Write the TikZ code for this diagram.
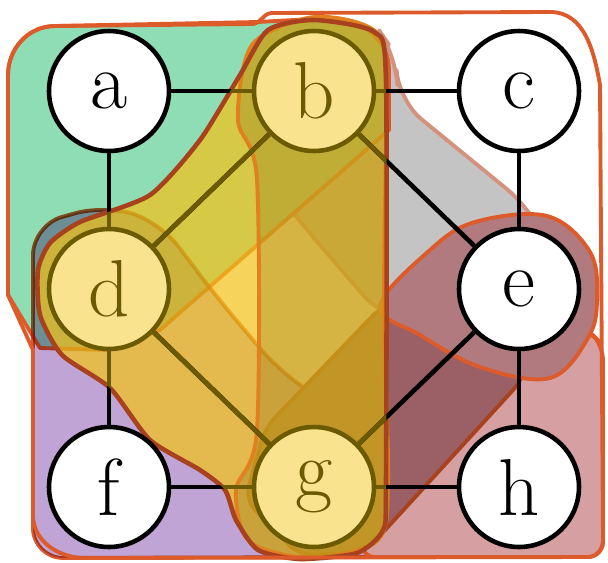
\documentclass[tikz,border=0pt]{standalone}
\usepackage{fontspec}
\usetikzlibrary{positioning}

\definecolor{hgreen}{HTML}{8FDDB5}
\definecolor{hgray}{HTML}{C4C4C4}
\definecolor{hpurple}{HTML}{C1A4D6}
\definecolor{hpink}{HTML}{D69FA2}
\definecolor{hdark}{HTML}{9A6066}
\definecolor{hblob}{HTML}{B07A7E}
\definecolor{hkhaki}{HTML}{8C6E14}
\definecolor{hyellow}{HTML}{F2C21A}
\definecolor{hred}{HTML}{DD5A2A}
\definecolor{horange}{HTML}{E0801E}
\definecolor{hbrown}{HTML}{A8421E}
\definecolor{hsalmon}{HTML}{D4927E}
\definecolor{nodefill}{HTML}{F9E38F}
\definecolor{nodeink}{HTML}{6B5A00}

\pgfdeclarelayer{regions}
\pgfdeclarelayer{links}
\pgfsetlayers{regions,links,main}

% hull of the yellow triangle b-d-g
\def\trihull{plot[smooth cycle, tension=0.4] coordinates {(314,20) (374,32) (386,80) (386,480) (383,530) (357,553) (300,559) (258,550) (236,520) (225,490) (200,470) (150,440) (110,388) (62,355) (40,315) (38,270) (50,243) (80,222) (150,195) (200,140) (240,75) (268,30)}}

\begin{document}
\begin{tikzpicture}[
    x=0.02cm, y=-0.02cm,
    vert/.style={draw, circle, fill=white, line width=2.6pt, minimum size=2.4cm, inner sep=0pt, font=\fontsize{46}{46}\selectfont},
    hot/.style={vert, fill=nodefill, draw=nodeink, text=nodeink},
    link/.style={line width=2.6pt},
    hedge/.style={line width=2.2pt, line join=round}
]
    \useasboundingbox (0,0) rectangle (608,562);

    \node[vert] (a) at (109,91)  {a};
    \node[hot]  (b) at (314,91)  {b};
    \node[vert] (c) at (519,91)  {c};
    \node[hot]  (d) at (109,289) {d};
    \node[vert] (e) at (519,289) {e};
    \node[vert] (f) at (109,487) {f};
    \node[hot]  (g) at (314,487) {g};
    \node[vert] (h) at (519,487) {h};

    \begin{pgfonlayer}{regions}
    % b-e
    \draw[hedge, rounded corners=0.6cm, draw=hsalmon, fill=hgray] (248,70) -- (268,22) -- (372,20) -- (396,55) -- (398,100) -- (530,208) -- (565,280) -- (480,335) -- (383,318) -- (300,222) -- (245,150) -- cycle;
    % a-b-d
    \draw[hedge, draw=hred, fill=hgreen] (8,295) -- (8,75) to[out=90, in=180] (55,26) -- (258,22) -- (330,18) to[out=0, in=90] (389,70) -- (389,130) -- (160,330) -- (110,350) -- (40,348) -- cycle;
    % d-f-g
    \begin{scope}[blend mode=multiply]
    \draw[hedge, rounded corners=0.6cm, draw=hred, fill=hpurple] (33,225) -- (105,205) -- (160,222) -- (215,295) -- (280,372) -- (350,418) -- (398,475) -- (395,557) -- (33,558) -- cycle;
    \end{scope}
    % e-g-h
    \draw[hedge, rounded corners=0.3cm, draw=hred, fill=hpink] (392,335) -- (588,330) -- (603,345) -- (603,557) -- (360,557) -- (375,470) -- cycle;
    % e-g
    \draw[hedge, rounded corners=0.3cm, draw=hbrown, fill=hdark] (383,305) -- (530,320) -- (524,378) -- (365,552) -- (300,556) -- (245,500) -- (265,428) -- cycle;
    % e
    \draw[hedge, draw=hred, fill=hblob] plot[smooth cycle, tension=0.6] coordinates {(380,306) (430,250) (475,222) (547,216) (590,252) (597,300) (588,338) (550,378) (480,367) (420,335)};
    % b-d-g
    \fill[hyellow, fill opacity=0.72] \trihull;
    % b-g
    \draw[hedge, draw=horange, fill=hkhaki, fill opacity=0.3] plot[smooth cycle, tension=0.5] coordinates {(314,17) (376,32) (386,90) (384,300) (388,480) (378,540) (314,558) (250,542) (236,490) (257,430) (257,180) (238,120) (252,45)};
    \draw[line width=2.6pt, draw=hbrown] \trihull;
    % all
    \draw[hedge, draw=hred] (8,295) -- (8,75) to[out=90, in=180] (55,26) -- (252,24) to[out=0, in=180] (272,13) -- (550,12) to[out=0, in=100] (600,85) -- (603,540) to[out=-90, in=0] (588,557) -- (85,558) to[out=180, in=-90] (33,515) -- (33,350) -- cycle;
    \end{pgfonlayer}

    \begin{pgfonlayer}{links}
    \draw[link] (a) -- (b);
    \draw[link] (b) -- (c);
    \draw[link] (a) -- (d);
    \draw[link] (c) -- (e);
    \draw[link] (b) -- (d);
    \draw[link] (b) -- (e);
    \draw[link] (d) -- (f);
    \draw[link] (e) -- (h);
    \draw[link] (d) -- (g);
    \draw[link] (e) -- (g);
    \draw[link] (f) -- (g);
    \draw[link] (g) -- (h);
    \begin{scope}
    \clip \trihull;
    \draw[link, nodeink] (a) -- (b);
    \draw[link, nodeink] (b) -- (c);
    \draw[link, nodeink] (a) -- (d);
    \draw[link, nodeink] (b) -- (d);
    \draw[link, nodeink] (b) -- (e);
    \draw[link, nodeink] (d) -- (f);
    \draw[link, nodeink] (d) -- (g);
    \draw[link, nodeink] (e) -- (g);
    \draw[link, nodeink] (f) -- (g);
    \draw[link, nodeink] (g) -- (h);
    \end{scope}
    \end{pgfonlayer}
\end{tikzpicture}
\end{document}
